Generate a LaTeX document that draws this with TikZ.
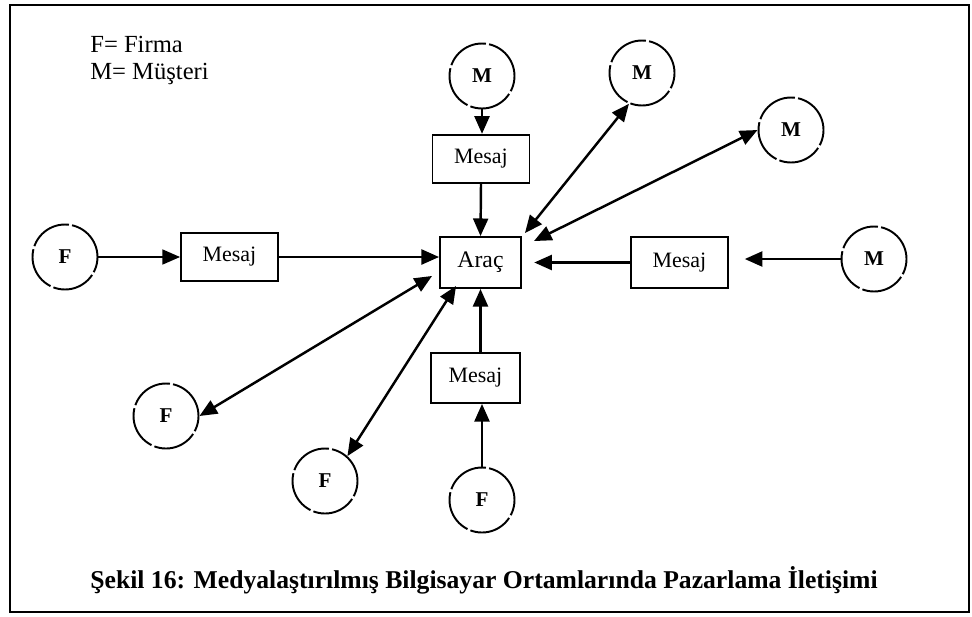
\documentclass[tikz,border=0pt]{standalone}
\usepackage{fontspec}
\setmainfont{Liberation Serif}
\usetikzlibrary{arrows.meta,calc}
\begin{document}
\begin{tikzpicture}[x=0.02cm,y=-0.02cm,
  party/.style={circle,draw,line width=1.1pt,minimum size=1.3cm,inner sep=0pt,
    dash pattern=on 25pt off 1.8pt,font=\fontsize{12}{14}\selectfont\bfseries},
  msgbox/.style={rectangle,draw,line width=1.1pt,minimum width=1.94cm,
    minimum height=0.97cm,inner sep=0pt,font=\fontsize{12.5}{14}\selectfont},
  link/.style={line width=1.4pt,-{Triangle[length=10pt,width=8.5pt]}},
  thinlink/.style={line width=0.9pt,-{Triangle[length=10pt,width=8.5pt]}},
  dlink/.style={line width=1.4pt,{Triangle[length=10pt,width=8.5pt]}-{Triangle[length=10pt,width=8.5pt]}},
]
\useasboundingbox (0,0) rectangle (972,616);
% outer frame
\draw[line width=1.2pt] (10,5) rectangle (969,612);

% legend
\node[anchor=base west,inner sep=0pt,font=\fontsize{14}{16}\selectfont] (legF) at (90,52) {F= Firma};
\node[anchor=base west,inner sep=0pt,font=\fontsize{14}{16}\selectfont] (legM) at (90,79) {M= Müşteri};

% central medium
\node[msgbox,minimum width=1.62cm,minimum height=1.02cm,font=\fontsize{13.5}{15}\selectfont] (arac) at (480.5,262.5) {Araç};

% message boxes
\node[msgbox] (msgT) at (481,159) {Mesaj};
\node[msgbox] (msgL) at (229.5,257) {Mesaj};
\node[msgbox,minimum height=1.02cm] (msgR) at (679.5,262.5) {Mesaj};
\node[msgbox,minimum width=1.78cm,minimum height=1cm] (msgB) at (475.5,378) {Mesaj};

% customers and firms
\node[party] (mT)  at (482,76)  {M};
\node[party] (mUR) at (642,73)  {M};
\node[party] (mR)  at (791,130) {M};
\node[party] (mFR) at (874,259) {M};
\node[party] (fL)  at (65,257)  {F};
\node[party] (fLL) at (166,416) {F};
\node[party] (fLM) at (325,481) {F};
\node[party] (fB)  at (482,500) {F};

% one-way message flows
\draw[link] (mT.south) -- (mT.south |- msgT.north);
\draw[link] (msgT.south) -- (arac.north);
\draw[thinlink] (fL.east) -- (msgL.west);
\draw[link] (msgL.east) -- (msgL.east -| arac.west);
\draw[link,shorten >=9] (mFR.west) -- (mFR.west -| msgR.east);
\draw[link,shorten >=7] (msgR.west) -- (arac.east);
\draw[link] (fB.north) -- (fB.north |- msgB.south);
\draw[link] (msgB.north -| arac.south) -- (arac.south);

% two-way interactive links
\draw[dlink] ($(arac.north east)+(3,-3)$) -- (mUR.-113);
\draw[dlink] ($(arac.north east)+(12,5)$) -- (mR.180);
\draw[dlink] ($(arac.south west)+(-7,-13)$) -- (fLL.east);
\draw[dlink] ($(arac.south west)+(17,-3)$) -- (fLM.48);

% caption
\node[anchor=base,inner sep=0pt,font=\fontsize{14.6}{17}\selectfont\bfseries] (cap) at (484,588)
  {Şekil 16: Medyalaştırılmış Bilgisayar Ortamlarında Pazarlama İletişimi};
\end{tikzpicture}
\end{document}
